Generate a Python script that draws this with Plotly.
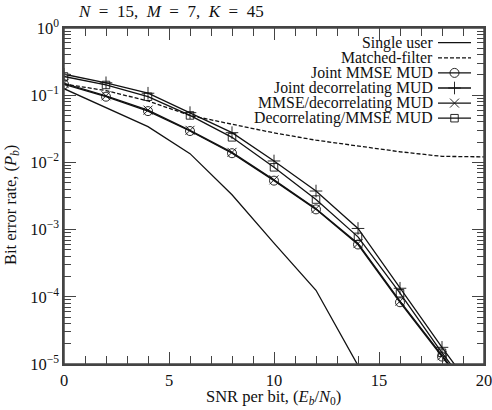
import plotly.graph_objects as go

# ---- data ----
snr = [0, 2, 4, 6, 8, 10, 12, 14, 16, 18, 20]
snr_single = [0, 2, 4, 6, 8, 10, 12, 14]
single_user = [0.125, 0.066, 0.034, 0.0135, 0.0033, 6.3e-4, 1.25e-4, 9.5e-6]
matched_filter = [0.147, 0.117, 0.082, 0.050, 0.037, 0.0275, 0.0214, 0.0174, 0.0144, 0.0123, 0.0121]
joint_mmse = [0.145, 0.095, 0.058, 0.0293, 0.0137, 0.00535, 0.0020, 6.0e-4, 8.3e-5, 1.29e-5, 2.0e-6]
joint_decorr = [0.205, 0.153, 0.107, 0.055, 0.0277, 0.0105, 0.00375, 1.04e-3, 1.34e-4, 1.77e-5, 2.5e-6]
mmse_decorr = [0.15, 0.098, 0.060, 0.0300, 0.0141, 0.0055, 0.00205, 6.2e-4, 8.6e-5, 1.33e-5, 2.1e-6]
decorr_mmse = [0.19, 0.142, 0.095, 0.050, 0.0236, 0.00845, 0.0028, 7.8e-4, 1.13e-4, 1.47e-5, 2.2e-6]
marker_x = [0, 2, 4, 6, 8, 10, 12, 14, 16, 18]

ytick_vals = [1e-5, 1e-4, 1e-3, 1e-2, 1e-1, 1]
ytick_text = ["10<sup>−5</sup>", "10<sup>−4</sup>", "10<sup>−3</sup>", "10<sup>−2</sup>", "10<sup>−1</sup>", "10<sup>0</sup>"]
yminor_vals = [m * 10 ** e for e in range(-5, 0) for m in range(2, 10)]
xtick_vals = [0, 5, 10, 15, 20]

legend_names = ["Single user", "Matched-filter", "Joint MMSE MUD", "Joint decorrelating MUD",
                "MMSE/decorrelating MUD", "Decorrelating/MMSE MUD"]

FONT = "Liberation Serif, Times New Roman, DejaVu Serif, serif"
BLACK = "#111111"
FS = 16.5
LFS = 15.8
AXC = "#444444"

fig = go.Figure()

def mk(sym):
    return dict(symbol=sym, size=9 if "square" not in sym else 7.5, color=BLACK,
                line=dict(color=BLACK, width=0.9))

def add(x, y, sym=None, dash="solid"):
    fig.add_trace(go.Scatter(x=x, y=y, mode="lines", line=dict(color=BLACK, width=1.3, dash=dash),
                             showlegend=False, hoverinfo="skip"))
    if sym:
        n = len(marker_x)
        fig.add_trace(go.Scatter(x=marker_x, y=y[:n], mode="markers", showlegend=False, marker=mk(sym)))

add(snr_single, single_user)
add(snr, matched_filter, dash="4px,2px")
add(snr, joint_mmse, "circle-open")
add(snr, joint_decorr, "cross-thin-open")
add(snr, mmse_decorr, "x-thin-open")
add(snr, decorr_mmse, "square-open")

# ---- custom legend (text right, sample on the right) ----
def px_x(p):
    return (p - 64) / 420.0

def px_y(p):
    return (364 - p) / 336.0

row_y = [42.7, 57.8, 72.9, 88.0, 103.1, 118.2]
syms = [None, None, "circle-open", "cross-thin-open", "x-thin-open", "square-open"]
dashes = ["solid", "4px,2px", "solid", "solid", "solid", "solid"]
for name, ry, sym, d in zip(legend_names, row_y, syms, dashes):
    fig.add_annotation(x=px_x(435), y=px_y(ry), xref="paper", yref="paper", text=name,
                       showarrow=False, xanchor="right", yanchor="middle",
                       font=dict(family=FONT, size=LFS, color=BLACK))
    fig.add_trace(go.Scatter(x=[px_x(438), px_x(471)], y=[px_y(ry), px_y(ry)], xaxis="x2", yaxis="y2",
                             mode="lines", line=dict(color=BLACK, width=1.3, dash=d),
                             showlegend=False, hoverinfo="skip"))
    if sym:
        fig.add_trace(go.Scatter(x=[px_x(454.5)], y=[px_y(ry)], xaxis="x2", yaxis="y2", mode="markers",
                                 marker=mk(sym), showlegend=False, hoverinfo="skip"))

# title and axis titles
fig.add_annotation(x=px_x(171), y=px_y(12), xref="paper", yref="paper",
                   text="<i>N</i>&nbsp; =&nbsp; 15,&nbsp; <i>M</i>&nbsp; =&nbsp; 7,&nbsp; <i>K</i>&nbsp; =&nbsp; 45",
                   showarrow=False, xanchor="center", yanchor="middle",
                   font=dict(family=FONT, size=17, color=BLACK))
fig.add_annotation(x=px_x(273), y=px_y(397), xref="paper", yref="paper",
                   text="SNR per bit, (<i>E<sub>b</sub></i>/<i>N</i><sub>0</sub>)", showarrow=False,
                   xanchor="center", yanchor="middle", font=dict(family=FONT, size=FS, color=BLACK))
fig.add_annotation(x=px_x(11), y=px_y(205), xref="paper", yref="paper",
                   text="Bit error rate, (<i>P<sub>b</sub></i>)", showarrow=False, textangle=-90,
                   xanchor="center", yanchor="middle", font=dict(family=FONT, size=FS, color=BLACK))

# explicit frame
fig.add_shape(type="rect", xref="paper", yref="paper", x0=0, x1=1, y0=0, y1=1,
              line=dict(color=AXC, width=1.5), fillcolor="rgba(0,0,0,0)", layer="above")

fig.update_layout(
    width=492, height=410,
    margin=dict(l=64, r=8, t=28, b=46, autoexpand=False),
    paper_bgcolor="white", plot_bgcolor="white",
    font=dict(family=FONT, size=FS, color=BLACK),
    showlegend=False,
    xaxis=dict(range=[0, 20], tickvals=xtick_vals, ticks="inside", ticklen=12, tickwidth=1.3,
               tickcolor=AXC, showline=True, linecolor=AXC, linewidth=1.5, mirror="allticks",
               showgrid=False, zeroline=False, automargin=False, ticklabeloverflow="allow",
               minor=dict(ticks="inside", dtick=1, ticklen=8, tickwidth=1.3, tickcolor=AXC, showgrid=False),
               tickfont=dict(family=FONT, size=FS, color=BLACK)),
    yaxis=dict(type="log", range=[-5, 0], tickvals=ytick_vals, ticktext=ytick_text,
               ticks="inside", ticklen=12, tickwidth=1.3, tickcolor=AXC, showline=True, linecolor=AXC,
               linewidth=1.5, mirror="allticks", showgrid=False, zeroline=False, automargin=False,
               ticklabeloverflow="allow",
               minor=dict(ticks="inside", tickvals=yminor_vals, ticklen=7, tickwidth=1.1, tickcolor=AXC,
                          showgrid=False),
               tickfont=dict(family=FONT, size=FS, color=BLACK)),
    xaxis2=dict(range=[0, 1], overlaying="x", visible=False, fixedrange=True),
    yaxis2=dict(range=[0, 1], overlaying="y", visible=False, fixedrange=True),
)

fig.write_html(
    "out.html",
    post_script="document.documentElement.style.overflow='hidden';"
                "document.body.style.overflow='hidden';document.body.style.margin='0';",
)
